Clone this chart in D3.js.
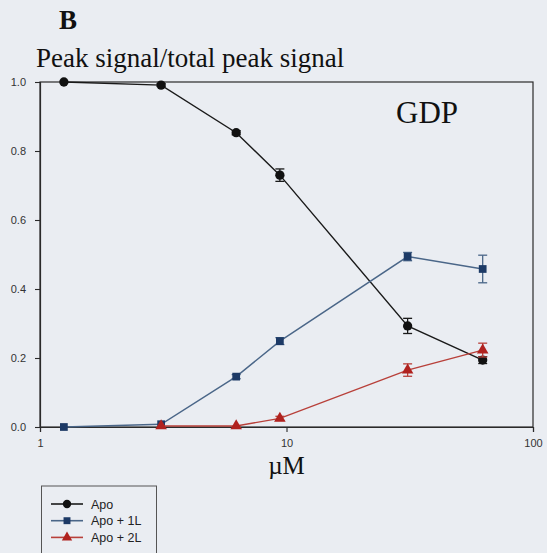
<!DOCTYPE html>
<html>
<head>
<meta charset="utf-8">
<script src="https://cdn.jsdelivr.net/npm/d3@7/dist/d3.min.js"></script>
<style>
  html, body { margin: 0; padding: 0; background: #eaedf2; }
  svg { display: block; }
</style>
</head>
<body>
<svg id="chart" width="547" height="553"></svg>
<script>
// Ligand concentration (µM) and fraction of peak signal per species
const conc = [1.25, 3.1, 6.25, 9.4, 31, 62.5];
const apo = [1.0, 0.991, 0.853, 0.730, 0.293, 0.194];
const apoErr = [0, 0.004, 0.006, 0.018, 0.022, 0.010];
const apo1L = [0, 0.008, 0.146, 0.249, 0.494, 0.458];
const apo1LErr = [0, 0, 0.006, 0.010, 0.012, 0.040];
const apo2L = [null, 0.003, 0.003, 0.025, 0.165, 0.223];
const apo2LErr = [0, 0, 0, 0.006, 0.018, 0.020];

const seriesNames = ["Apo", "Apo + 1L", "Apo + 2L"];
const xTicks = [1, 10, 100];
const yTicks = [0, 0.2, 0.4, 0.6, 0.8, 1.0];

(function draw() {
  const svg = d3.select("#chart");
  const pL = 40, pR = 533, pT = 82, pB = 427;

  const x = d3.scaleLog().domain([1, 100]).range([pL, pR]);
  const y = d3.scaleLinear().domain([0, 1]).range([pB, pT]);

  const serif = "Liberation Serif, Times New Roman, serif";
  const sans = "Liberation Sans, Arial, sans-serif";

  // Panel letter and titles
  svg.append("text").attr("x", 59).attr("y", 29)
    .attr("font-family", serif)
    .attr("font-weight", "bold").attr("font-size", 27).attr("fill", "#111")
    .text("B");
  svg.append("text").attr("x", 36).attr("y", 67)
    .attr("font-family", serif)
    .attr("font-size", 27).attr("fill", "#111")
    .text("Peak signal/total peak signal");
  svg.append("text").attr("x", 396).attr("y", 123)
    .attr("font-family", serif)
    .attr("font-size", 31).attr("fill", "#111")
    .text("GDP");
  svg.append("text").attr("x", (pL + pR) / 2).attr("y", 474)
    .attr("text-anchor", "middle")
    .attr("font-family", serif)
    .attr("font-size", 25).attr("fill", "#111")
    .text("µM");

  // Plot frame
  svg.append("rect").attr("x", pL).attr("y", pT)
    .attr("width", pR - pL).attr("height", pB - pT)
    .attr("fill", "none").attr("stroke", "#2a2a2a").attr("stroke-width", 1.2);

  // Axes
  const yAxis = d3.axisLeft(y).tickValues(yTicks).tickFormat(d3.format(".1f"))
    .tickSize(5).tickPadding(9);
  const gy = svg.append("g").attr("transform", `translate(${pL},0)`).call(yAxis);
  const xAxis = d3.axisBottom(x).tickValues(xTicks).tickFormat(d3.format("d"))
    .tickSize(5).tickPadding(7);
  const gx = svg.append("g").attr("transform", `translate(0,${pB})`).call(xAxis);
  [gx, gy].forEach(g => {
    g.select(".domain").attr("stroke", "#2a2a2a").attr("stroke-width", 1.2);
    g.selectAll(".tick line").attr("stroke", "#2a2a2a").attr("stroke-width", 1.1);
    g.selectAll(".tick text").attr("fill", "#333")
      .attr("font-family", sans).attr("font-size", 11);
  });

  const series = [
    { name: seriesNames[0], vals: apo, err: apoErr, line: "#1a1a1a", fill: "#111", shape: d3.symbolCircle, size: 68 },
    { name: seriesNames[1], vals: apo1L, err: apo1LErr, line: "#4a6688", fill: "#1d3a66", shape: d3.symbolSquare, size: 60 },
    { name: seriesNames[2], vals: apo2L, err: apo2LErr, line: "#b8403a", fill: "#b0221f", shape: d3.symbolTriangle, size: 58 }
  ];

  const line = d3.line().x(d => x(d.c)).y(d => y(d.v));

  series.forEach(s => {
    const pts = conc.map((c, i) => ({ c, v: s.vals[i], e: s.err[i] })).filter(d => d.v != null);
    const g = svg.append("g");
    g.append("path").datum(pts).attr("d", line)
      .attr("fill", "none").attr("stroke", s.line).attr("stroke-width", 1.4);
    // Error bars
    const eb = g.selectAll(".eb").data(pts.filter(d => d.e > 0)).join("g");
    eb.append("line").attr("x1", d => x(d.c)).attr("x2", d => x(d.c))
      .attr("y1", d => y(d.v - d.e)).attr("y2", d => y(d.v + d.e))
      .attr("stroke", s.line).attr("stroke-width", 1.3);
    [-1, 1].forEach(sg => {
      eb.append("line").attr("x1", d => x(d.c) - 4.5).attr("x2", d => x(d.c) + 4.5)
        .attr("y1", d => y(d.v + sg * d.e)).attr("y2", d => y(d.v + sg * d.e))
        .attr("stroke", s.line).attr("stroke-width", 1.3);
    });
    g.selectAll(".pt").data(pts).join("path")
      .attr("transform", d => `translate(${x(d.c)},${y(d.v)})`)
      .attr("d", d3.symbol().type(s.shape).size(s.size))
      .attr("fill", s.fill);
  });

  // Legend
  const lg = svg.append("g");
  lg.append("rect").attr("x", 41.5).attr("y", 486).attr("width", 115).attr("height", 80)
    .attr("fill", "none").attr("stroke", "#555").attr("stroke-width", 1);
  series.forEach((s, i) => {
    const ly = 504 + i * 16.7;
    lg.append("line").attr("x1", 51).attr("x2", 83).attr("y1", ly).attr("y2", ly)
      .attr("stroke", s.line).attr("stroke-width", 1.6);
    lg.append("path").attr("transform", `translate(67,${ly})`)
      .attr("d", d3.symbol().type(s.shape).size(s.size * 0.8)).attr("fill", s.fill);
    lg.append("text").attr("x", 91).attr("y", ly + 4.5)
      .attr("font-family", sans).attr("font-size", 12.5)
      .attr("fill", "#222").text(s.name);
  });
})();
</script>
</body>
</html>
